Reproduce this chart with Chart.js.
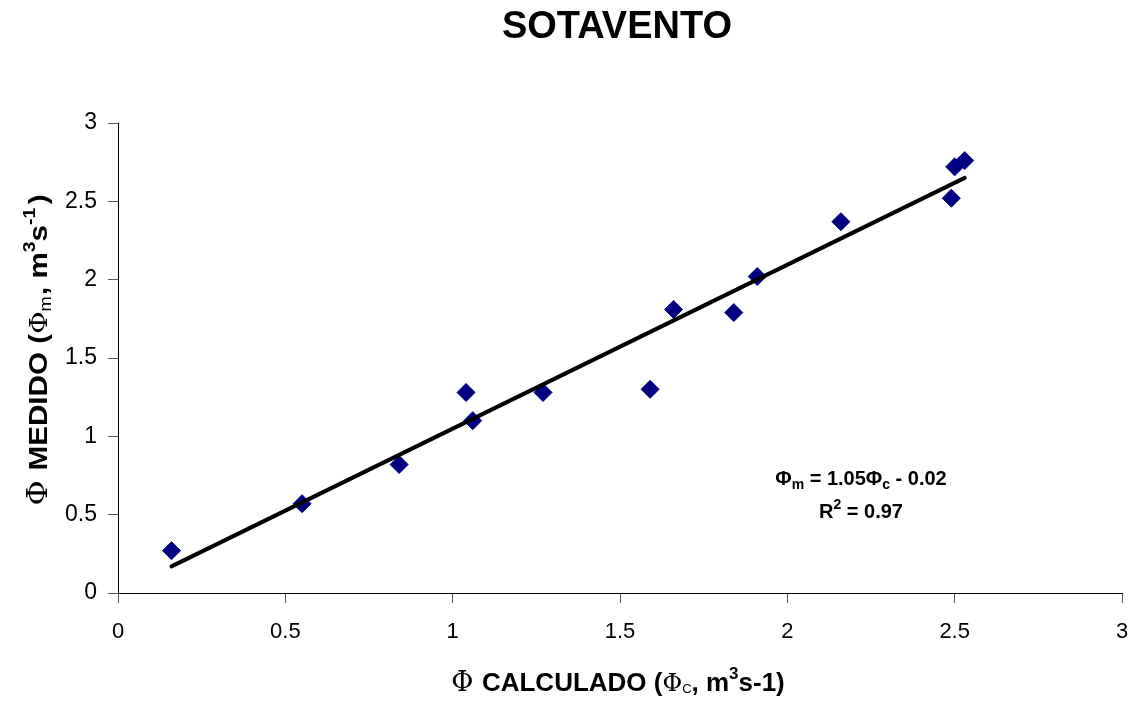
<!DOCTYPE html>
<html>
<head>
<meta charset="utf-8">
<script src="https://cdn.jsdelivr.net/npm/chart.js@4/dist/chart.umd.min.js"></script>
<style>
  body { margin: 0; background: #fff; }
  #wrap { width: 1138px; height: 701px; }
</style>
</head>
<body>
<div id="wrap"><canvas id="myChart" width="1138" height="701"></canvas></div>
<script>
// Phi calculado (x) and Phi medido (y)
const calculado = [0.16, 0.55, 0.84, 1.04, 1.06, 1.27, 1.59, 1.66, 1.84, 1.91, 2.16, 2.49, 2.50, 2.53];
const medido = [0.27, 0.57, 0.82, 1.28, 1.10, 1.28, 1.30, 1.81, 1.79, 2.02, 2.37, 2.52, 2.72, 2.76];

// trend line end points
const trendX = [0.16, 2.53];
const trendY = [0.17, 2.65];

// axis ticks
const tickValues = [0, 0.5, 1, 1.5, 2, 2.5, 3];

const chartTitle = "SOTAVENTO";
const equationText = ["= 1.05", " - 0.02"];
const r2Text = " = 0.97";

const FONT = "'Liberation Sans', Arial, sans-serif";
const SYM = "'DejaVu Serif', 'Liberation Serif', serif";

// draws a row of text pieces (font + vertical shift), centred on cx
const drawRich = (ctx, segs, cx, y) => {
  let total = 0;
  segs.forEach(s => {
    ctx.font = s.font;
    s.w = ctx.measureText(s.t).width + (s.gap || 0);
    total += s.w;
  });
  let x = cx - total / 2;
  ctx.textAlign = "left";
  ctx.textBaseline = "alphabetic";
  segs.forEach(s => {
    ctx.font = s.font;
    ctx.fillText(s.t, x, y + (s.dy || 0));
    x += s.w;
  });
};

const textPlugin = {
  id: "textPlugin",
  afterDraw(chart) {
    const ctx = chart.ctx;
    const area = chart.chartArea;
    const xs = chart.scales.x;
    const ys = chart.scales.y;
    const mid = (area.left + area.right) / 2;
    ctx.save();
    ctx.fillStyle = "#000";

    // title
    ctx.font = "bold 38px " + FONT;
    ctx.textAlign = "center";
    ctx.textBaseline = "alphabetic";
    ctx.fillText(chartTitle, mid - 3, 38);

    const b = "bold 26px " + FONT;
    const small = "bold 17px " + FONT;
    const phi = "27px " + SYM;
    const phiS = "24px " + SYM;

    // x axis title
    drawRich(ctx, [
      { t: "\u03A6 ", font: phi },
      { t: "CALCULADO (", font: b },
      { t: "\u03A6", font: phiS },
      { t: "C", font: "13px " + FONT, dy: 2 },
      { t: ", m", font: b },
      { t: "3", font: small, dy: -12 },
      { t: "s-1)", font: b }
    ], mid - 2, 691);

    // y axis title (rotated, a bit stretched like the original)
    ctx.save();
    ctx.translate(47, 350);
    ctx.rotate(-Math.PI / 2);
    ctx.scale(1.14, 1);
    drawRich(ctx, [
      { t: "\u03A6 ", font: phi },
      { t: "MEDIDO (", font: b },
      { t: "\u03A6", font: phiS },
      { t: "m", font: "16px " + FONT, dy: 4, gap: 1 },
      { t: ", m", font: b },
      { t: "3", font: small, dy: -12 },
      { t: "s", font: b },
      { t: "-1", font: small, dy: -12, gap: 3 },
      { t: ")", font: b }
    ], 0, 0);
    ctx.restore();

    // equation of the trend line
    const ex = xs.getPixelForValue(2.22);
    const b20 = "bold 20px " + FONT;
    const s14 = "bold 14px " + FONT;
    drawRich(ctx, [
      { t: "\u03A6", font: b20 },
      { t: "m", font: s14, dy: 4 },
      { t: " " + equationText[0], font: b20 },
      { t: "\u03A6", font: b20 },
      { t: "c", font: s14, dy: 4 },
      { t: equationText[1], font: b20 }
    ], ex, ys.getPixelForValue(0.69));
    drawRich(ctx, [
      { t: "R", font: b20 },
      { t: "2", font: s14, dy: -9 },
      { t: r2Text, font: b20 }
    ], ex, ys.getPixelForValue(0.48));
    ctx.restore();
  }
};

const points = calculado.map((x, i) => ({ x: x, y: medido[i] }));
const trend = trendX.map((x, i) => ({ x: x, y: trendY[i] }));

const ctx = document.getElementById("myChart").getContext("2d");
const myChart = new Chart(ctx, {
  type: "scatter",
  data: {
    datasets: [
      {
        label: "tendencia",
        data: trend,
        showLine: true,
        borderColor: "#000",
        borderWidth: 4,
        borderCapStyle: "round",
        pointRadius: 0,
        fill: false
      },
      {
        label: "Sotavento",
        data: points,
        pointStyle: "rectRot",
        pointRadius: 9,
        backgroundColor: "#000080",
        borderColor: "#000080",
        borderWidth: 1
      }
    ]
  },
  plugins: [textPlugin],
  options: {
    responsive: false,
    devicePixelRatio: 1,
    animation: false,
    layout: { padding: { top: 123, right: 16, bottom: 0, left: 0 } },
    plugins: {
      legend: { display: false },
      tooltip: { enabled: false },
      title: { display: false }
    },
    scales: {
      x: {
        type: "linear",
        min: 0,
        max: 3,
        afterFit: (scale) => {
          scale.height = 108;
          scale.paddingLeft = 0;
          scale.paddingRight = 0;
        },
        afterBuildTicks: (scale) => { scale.ticks = tickValues.map(v => ({ value: v })); },
        border: { color: "#000", width: 1 },
        grid: { drawOnChartArea: false, drawTicks: true, tickLength: 10, tickColor: "#555" },
        ticks: {
          color: "#000",
          padding: 16,
          maxRotation: 0,
          font: { family: FONT, size: 22 },
          callback: (v) => String(v)
        }
      },
      y: {
        type: "linear",
        min: 0,
        max: 3,
        afterFit: (scale) => {
          scale.width = 118;
          scale.paddingTop = 0;
          scale.paddingBottom = 0;
        },
        afterBuildTicks: (scale) => { scale.ticks = tickValues.map(v => ({ value: v })); },
        border: { color: "#000", width: 1 },
        grid: { drawOnChartArea: false, drawTicks: true, tickLength: 10, tickColor: "#555" },
        ticks: {
          color: "#000",
          padding: 11,
          font: { family: FONT, size: 23 },
          callback: (v) => String(v)
        }
      }
    }
  }
});
</script>
</body>
</html>
